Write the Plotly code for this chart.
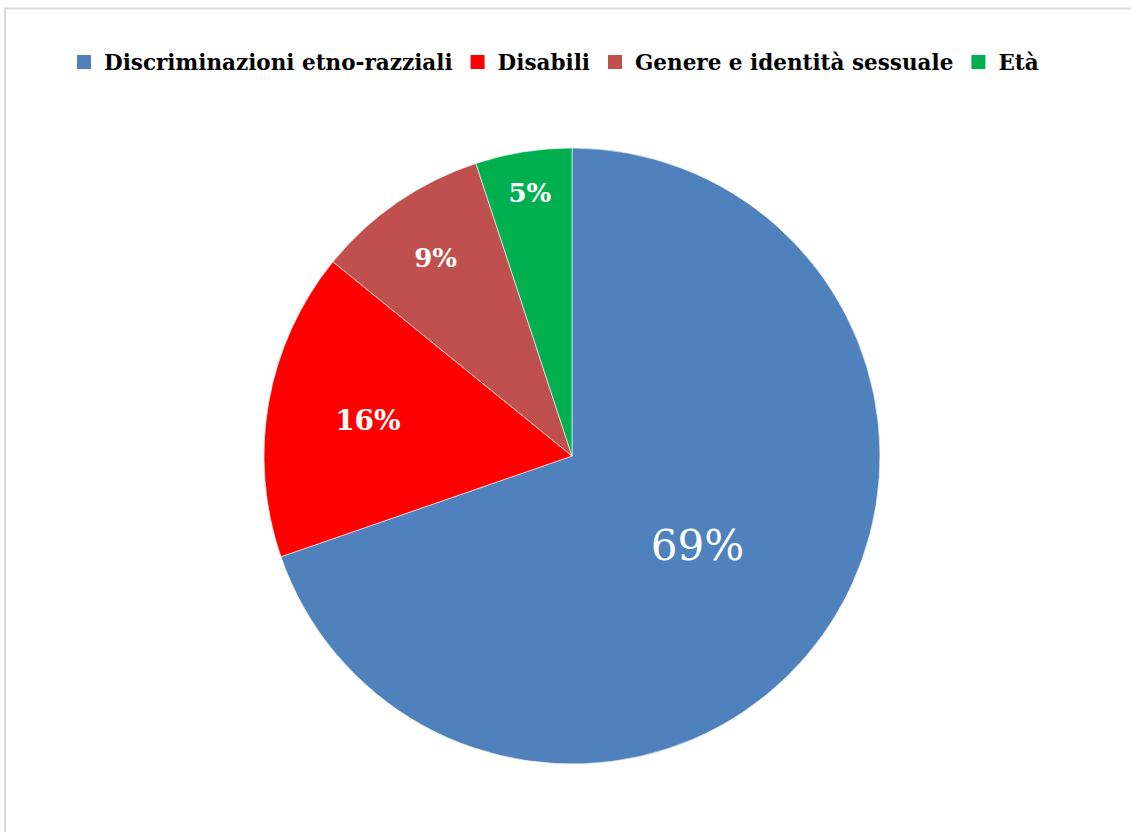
import plotly.graph_objects as go

categories = ["Discriminazioni etno-razziali", "Disabili", "Genere e identità sessuale", "Età"]
values = [69, 16, 9, 5]
colors = ["#4F81BD", "#FF0000", "#C0504D", "#00B050"]
templates = ["%{value}%", "<b>%{value}%</b>", "<b>%{value}%</b>", "<b>%{value}%</b>"]
label_sizes = [42, 28, 26, 26]

W, H = 1131, 832
cx, cy, r = 572, 456, 308

fig = go.Figure()
fig.add_trace(go.Pie(
    labels=categories,
    values=values,
    sort=False,
    direction="clockwise",
    rotation=0,
    marker=dict(colors=colors, line=dict(color="white", width=0.6)),
    texttemplate=templates,
    textposition="inside",
    insidetextorientation="horizontal",
    textfont=dict(family="DejaVu Serif", color="white", size=label_sizes),
    hoverinfo="label+percent",
    showlegend=False,
    domain=dict(x=[(cx - r) / W, (cx + r) / W], y=[1 - (cy + r) / H, 1 - (cy - r) / H]),
))

# legend entries with larger square swatches
for name, col in zip(categories, colors):
    fig.add_trace(go.Scatter(
        x=[None], y=[None], mode="markers", name=name,
        marker=dict(symbol="square", size=14, color=col),
        showlegend=True, hoverinfo="skip",
    ))

fig.update_layout(
    width=W, height=H,
    margin=dict(l=0, r=0, t=0, b=0),
    paper_bgcolor="white",
    plot_bgcolor="white",
    xaxis=dict(visible=False),
    yaxis=dict(visible=False),
    showlegend=True,
    legend=dict(
        orientation="h",
        x=64 / W, xanchor="left",
        y=1 - 62 / H, yanchor="middle",
        font=dict(family="DejaVu Serif", size=21.5, color="black", weight="bold"),
        traceorder="normal",
    ),
    shapes=[dict(type="rect", xref="paper", yref="paper",
                 x0=5 / W, x1=1.05, y0=-0.05, y1=1 - 8.5 / H,
                 line=dict(color="#D9D9D9", width=2), fillcolor="rgba(0,0,0,0)")],
)

fig.write_html("out.html", config={"displayModeBar": False},
               post_script="document.body.style.margin='0px';")
